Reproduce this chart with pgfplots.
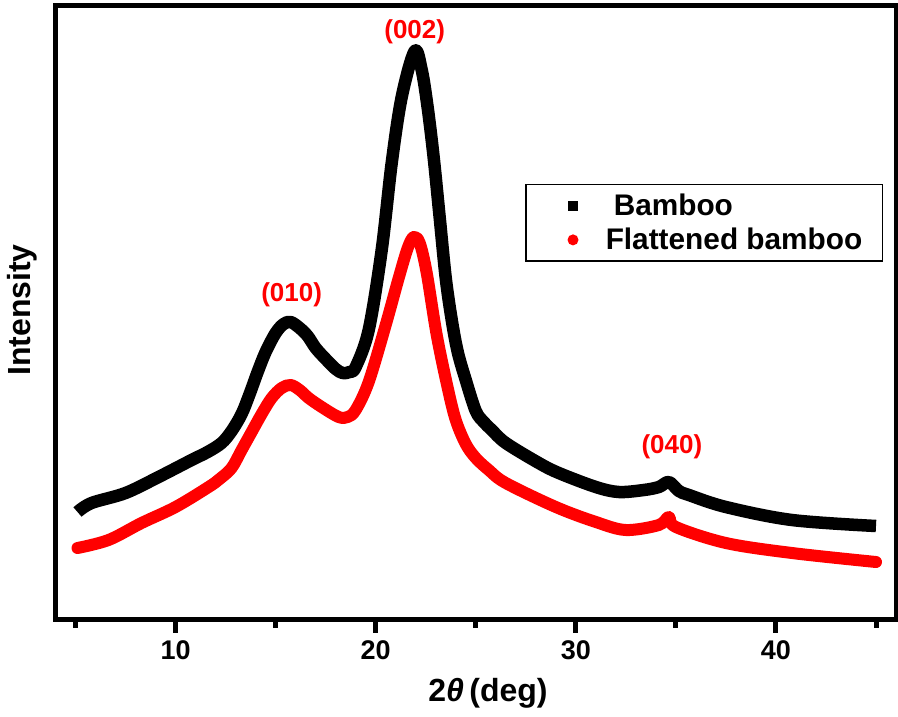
\documentclass[border=0pt]{standalone}
\usepackage{fontspec}
\setmainfont{Liberation Sans}
\usepackage{pgfplots}
\pgfplotsset{compat=1.18}
\begin{document}
\begin{tikzpicture}
\begin{axis}[
  scale only axis, width=840.5pt, height=614pt,
  xmin=4, xmax=46, ymin=-1.5, ymax=612.5,
  axis line style={line width=4.5pt},
  xtick={10,20,30,40}, minor xtick={5,15,25,35,45},
  ytick=\empty,
  xtick pos=bottom, tick align=outside,
  major tick length=13pt, minor tick length=8pt,
  tick style={line width=5pt, black},
  major tick style={line width=5pt, black},
  minor tick style={line width=5pt, black},
  /pgf/number format/assume math mode=true,
  xticklabel style={font=\fontsize{27}{32}\selectfont\bfseries, anchor=center, yshift=-17.5pt},
  xlabel={2\textit{θ}\,(deg)}, ylabel={Intensity},
  every axis x label/.style={at={(axis description cs:0.5146,-0.1197)}, anchor=center, font=\fontsize{32}{38}\selectfont\bfseries},
  every axis y label/.style={at={(axis description cs:-0.0399,0.504)}, rotate=90, anchor=center, font=\fontsize{32}{38}\selectfont\bfseries},
  legend style={at={(rel axis cs:0.5586,0.7093)}, anchor=north west, draw=black, line width=1.5pt,
    font=\fontsize{29.8}{34}\selectfont\bfseries, inner xsep=20pt, inner ysep=9.5pt,
    row sep=11pt, column sep=33.5pt, nodes={inner sep=0pt}},
  legend cell align=left,
]
\addplot[black, line width=12.5pt, line join=round, smooth, tension=0.55, forget plot] coordinates {
(5.1,106) (5.8,115) (7.5,125) (9.15,141) (10.8,158) (11.6,166) (12.3,175) (12.8,187) (13.3,204) (13.7,224)
(14.1,246) (14.5,266) (15.0,285) (15.4,294) (15.75,296) (16.2,290) (16.6,282) (17.0,270) (17.5,259)
(18.0,249) (18.35,245) (18.7,246) (19.0,251)
(19.65,288) (20.3,368) (20.8,455) (21.3,521) (21.95,567) (22.3,548) (22.6,510) (22.9,460) (23.2,400)
(23.5,340) (23.8,298) (24.1,266) (24.5,238) (25.0,207) (25.4,196) (25.8,188) (26.5,175) (28.15,155) (29.15,145)
(31.0,131) (32.15,126) (33.4,128) (34.15,131) (34.65,136) (35.15,127) (35.65,123) (37.5,111)
(40.8,98) (45.0,92)
};
\addplot[red, line width=12pt, line join=round, line cap=round, smooth, tension=0.55, forget plot] coordinates {
(5.1,70) (6.65,78) (8.3,95) (10.0,111) (11.65,131) (12.2,139) (12.8,150) (13.3,168) (13.8,186)
(14.3,204) (14.8,220) (15.3,230) (15.75,233) (16.2,228) (16.65,220) (17.3,211) (18.15,201) (18.6,201) (19.0,208) (19.65,236)
(20.5,293) (21.15,340) (21.6,370) (21.9,381) (22.2,375) (22.55,345) (23.05,283) (23.6,230) (24.0,198) (24.5,174) (25.0,160)
(25.65,148) (26.5,135) (29.0,111) (31.0,96) (32.5,88) (34.15,93) (34.65,101)
(35.0,91) (37.5,75) (40.8,65) (45.0,56)
};
\addlegendimage{legend image code/.code={\path[draw=none, fill=none] (0pt,0pt) rectangle (26.5pt,10pt); \node[overlay, draw=none, fill=black, minimum size=10pt, inner sep=0pt] at (21pt,0pt) {};}}
\addlegendentry{\hspace{8pt}Bamboo}
\addlegendimage{legend image code/.code={\path[draw=none, fill=none] (0pt,0pt) rectangle (26.5pt,10pt); \node[overlay, draw=none, fill=red, circle, minimum size=11pt, inner sep=0pt] at (21pt,0pt) {};}}
\addlegendentry{Flattened bamboo}
\node[red, font=\fontsize{26}{30}\selectfont\bfseries] at (axis cs:21.95,586) {(002)};
\node[red, font=\fontsize{26}{30}\selectfont\bfseries] at (axis cs:15.8,323) {(010)};
\node[red, font=\fontsize{26}{30}\selectfont\bfseries] at (axis cs:34.8,171) {(040)};
\end{axis}
\pgfresetboundingbox
\path ([xshift=-55.5pt,yshift=-96.5pt]current axis.south west) rectangle ([xshift=2pt,yshift=5.5pt]current axis.north east);
\end{tikzpicture}
\end{document}
